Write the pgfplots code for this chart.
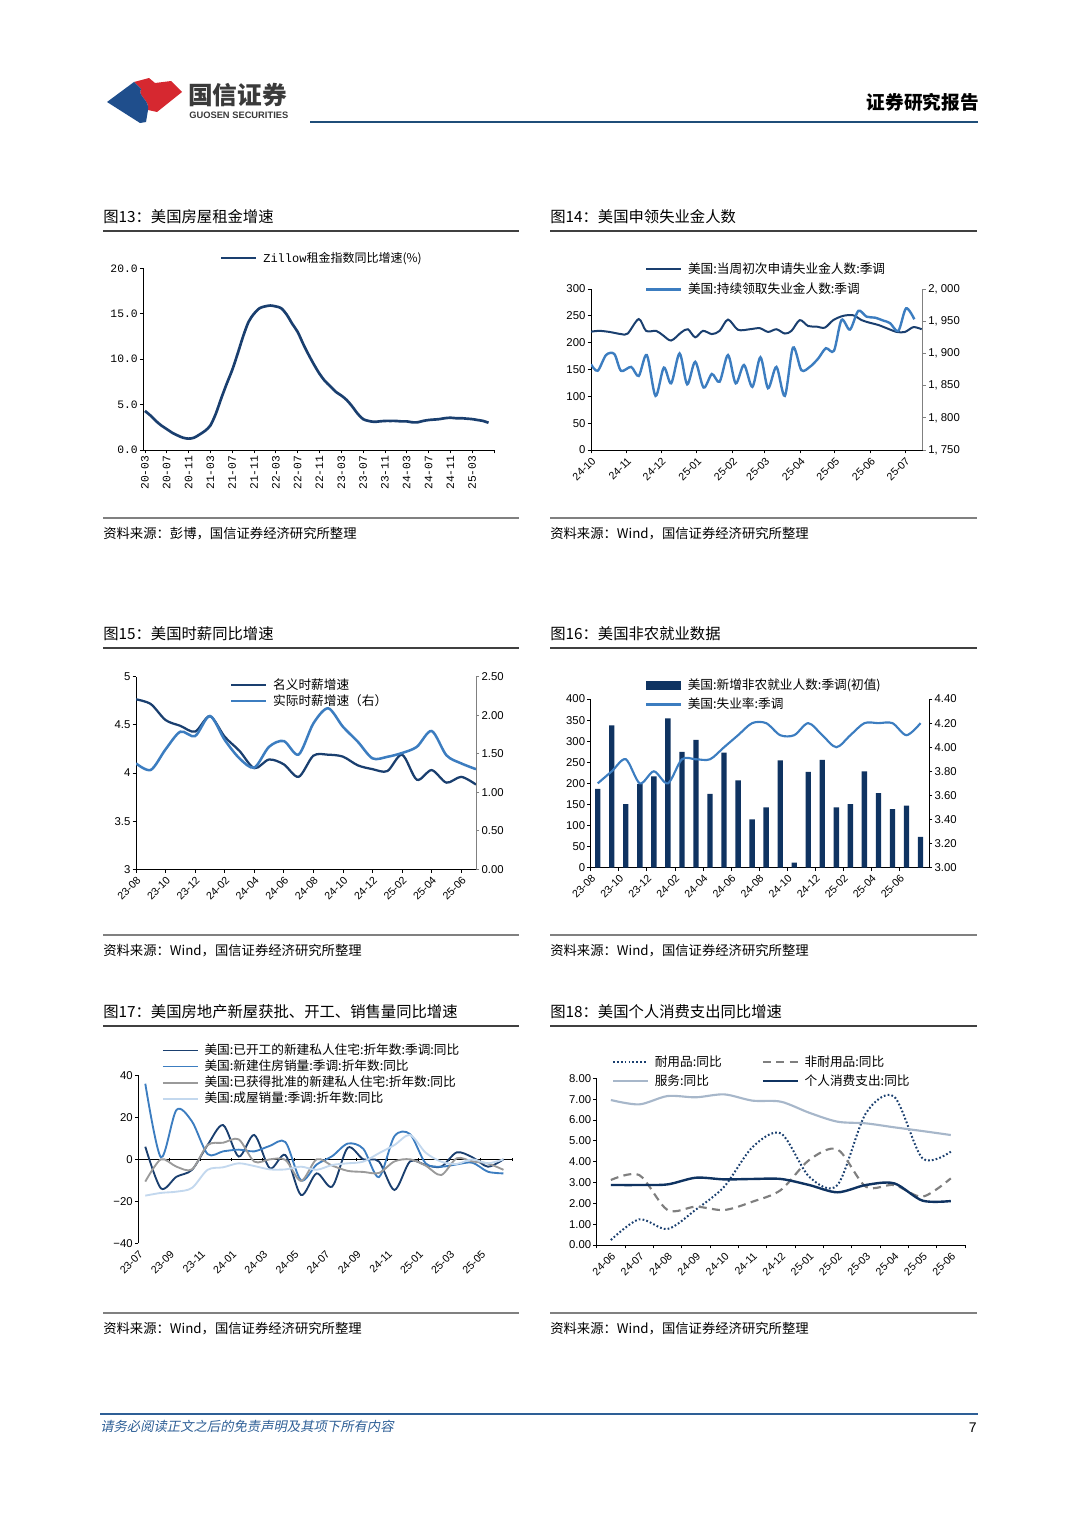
\documentclass[border=0pt]{standalone}
\usepackage{fontspec}
\usepackage{pgfplots}
\pgfplotsset{compat=1.18}
\setmainfont{Noto Sans CJK SC}
\newfontfamily\arial{Liberation Sans}
\newfontfamily\mono{Liberation Mono}
\newfontfamily\cjkit[FakeSlant=0.2]{Noto Sans CJK SC}

\definecolor{logored}{HTML}{D62830}
\definecolor{logoblue}{HTML}{1F4E8C}
\definecolor{hdrblue}{HTML}{1F4E79}
\definecolor{hdrgray}{HTML}{3A3A3A}
\definecolor{footblue}{HTML}{2E5F96}
\definecolor{navy}{HTML}{1A3F6F}
\definecolor{mblue}{HTML}{3C7DC0}
\definecolor{barc}{HTML}{0F3361}
\definecolor{lgray}{HTML}{9A9A9A}
\definecolor{lblue}{HTML}{C3D8EE}
\definecolor{srv}{HTML}{A7B7CA}
\definecolor{ndur}{HTML}{7F7F7F}
\definecolor{axgray}{HTML}{808080}

\pgfplotsset{
  base/.style={
    scale only axis, anchor=south west,
    axis line style={line width=0.6pt},
    tick style={line width=0.6pt, black},
    tick align=outside, major tick length=2.5pt,
    tick label style={font=\arial\fontsize{8.5}{9}\selectfont, inner sep=1.5pt},
    /pgf/number format/assume math mode=true,
    legend cell align=left,
    legend style={draw=none, fill=none, inner sep=0pt, outer sep=0pt,
      font=\fontsize{9.5}{10}\selectfont, nodes={inner sep=0pt},
      /tikz/every odd column/.append style={column sep=4.5pt}},
    legend image code/.code={\draw[##1] (0pt,0pt) -- (26pt,0pt);},
  },
  rot/.style={xticklabel style={rotate=45, anchor=north east, font=\arial\fontsize{8}{9}\selectfont}},
}

\begin{document}
\begin{tikzpicture}
\useasboundingbox (0,0) rectangle (810pt,-1145.25pt);

\begin{scope}[x=0.75pt,y=-0.75pt]
% header
\fill[logored] (134,82) -- (149,78) -- (155,83) -- (171,81) -- (182,92) -- (157,112) -- (148,110) .. controls (150,100) and (137,96) .. (141,89) -- cycle;
\fill[logoblue] (107,102) -- (134,82) -- (141,89) .. controls (137,96) and (150,100) .. (148,110) -- (146,122) -- (140,123) -- cycle;
\node[anchor=west, inner sep=0pt, text=hdrgray, font=\bfseries\fontsize{18.5}{19}\selectfont] at (188,95) {国信证券};
\node[anchor=west, inner sep=0pt, text=hdrgray, font=\arial\bfseries\fontsize{7}{8}\selectfont] at (189,115) {GUOSEN SECURITIES};
\node[anchor=east, inner sep=0pt, font=\bfseries\fontsize{14}{15}\selectfont] at (979,102) {证券研究报告};
\draw[line width=2.2pt, hdrblue] (310,122) -- (978,122);

% titles and sources
\begin{scope}[every node/.style={anchor=west, inner sep=0pt}]
\node[font=\fontsize{11.5}{12}\selectfont] at (103,217) {图13：美国房屋租金增速};
\node[font=\fontsize{11.5}{12}\selectfont] at (550,217) {图14：美国申领失业金人数};
\node[font=\fontsize{11.5}{12}\selectfont] at (103,634) {图15：美国时薪同比增速};
\node[font=\fontsize{11.5}{12}\selectfont] at (550,634) {图16：美国非农就业数据};
\node[font=\fontsize{11.5}{12}\selectfont] at (103,1012) {图17：美国房地产新屋获批、开工、销售量同比增速};
\node[font=\fontsize{11.5}{12}\selectfont] at (550,1012) {图18：美国个人消费支出同比增速};
\node[font=\fontsize{10}{11}\selectfont] at (103,534) {资料来源：彭博，国信证券经济研究所整理};
\node[font=\fontsize{10}{11}\selectfont] at (550,534) {资料来源：Wind，国信证券经济研究所整理};
\node[font=\fontsize{10}{11}\selectfont] at (103,951) {资料来源：Wind，国信证券经济研究所整理};
\node[font=\fontsize{10}{11}\selectfont] at (550,951) {资料来源：Wind，国信证券经济研究所整理};
\node[font=\fontsize{10}{11}\selectfont] at (103,1329) {资料来源：Wind，国信证券经济研究所整理};
\node[font=\fontsize{10}{11}\selectfont] at (550,1329) {资料来源：Wind，国信证券经济研究所整理};
\end{scope}
\foreach \yy in {231,648,1026} {
  \draw[line width=0.8pt, black!75] (103,\yy) -- (519,\yy);
  \draw[line width=0.8pt, black!75] (550,\yy) -- (977,\yy);
}
\foreach \yy in {518,935,1313} {
  \draw[line width=1pt, black!50] (103,\yy) -- (519,\yy);
  \draw[line width=1pt, black!50] (550,\yy) -- (977,\yy);
}
% footer
\draw[line width=0.8pt, footblue] (100,1414) -- (978,1414);
\node[anchor=west, inner sep=0pt, text=footblue, font=\cjkit\fontsize{10}{11}\selectfont] at (100,1426) {请务必阅读正文之后的免责声明及其项下所有内容};
\node[anchor=east, inner sep=0pt, font=\arial\fontsize{10.5}{11}\selectfont] at (977,1428) {7};
\end{scope}

% ================= Chart 13
\begin{axis}[base, at={({143.3*0.75pt},{-450*0.75pt})}, width=263pt, height=136.3pt,
  xmin=-0.3, xmax=64, ymin=0, ymax=20,
  axis x line*=bottom, axis y line*=left,
  xtick={0,4,...,64},
  xticklabels={20-03,20-07,20-11,21-03,21-07,21-11,22-03,22-07,22-11,23-03,23-07,23-11,24-03,24-07,24-11,25-03,},
  xticklabel style={rotate=90, anchor=east, font=\mono\fontsize{8.5}{9}\selectfont},
  ytick={0,5,10,15,20}, yticklabels={0.0,5.0,10.0,15.0,20.0},
  yticklabel style={font=\mono\fontsize{8.5}{9}\selectfont},
  legend style={at={(0.2187,1.0897)}, anchor=north west, font=\fontsize{9}{10}\selectfont}]
\addplot[navy, line width=2pt, smooth] coordinates {
(0,4.3)(1,3.8)(2,3.2)(3,2.7)(4,2.3)(5,1.9)(6,1.6)(7,1.35)(8,1.25)(9,1.35)(10,1.7)(11,2.1)(12,2.7)(13,4.0)(14,5.7)(15,7.3)(16,8.8)(17,10.6)(18,12.5)(19,14.1)(20,15.0)(21,15.6)(22,15.8)(23,15.9)(24,15.8)(25,15.6)(26,14.9)(27,13.9)(28,13.0)(29,11.7)(30,10.5)(31,9.4)(32,8.4)(33,7.6)(34,7.0)(35,6.4)(36,6.0)(37,5.5)(38,4.8)(39,4.0)(40,3.4)(41,3.2)(42,3.1)(43,3.15)(44,3.2)(45,3.2)(46,3.2)(47,3.15)(48,3.15)(49,3.05)(50,3.05)(51,3.2)(52,3.3)(53,3.35)(54,3.4)(55,3.5)(56,3.55)(57,3.5)(58,3.5)(59,3.45)(60,3.4)(61,3.3)(62,3.2)(63,3.0)};
\addlegendentry{{\mono Zillow}租金指数同比增速(\%)}
\end{axis}

% ================= Chart 14
\begin{axis}[base, rot, at={({591*0.75pt},{-450*0.75pt})}, width=248.8pt, height=120.75pt,
  xmin=0, xmax=288.4, ymin=0, ymax=300,
  axis x line*=bottom, axis y line*=left,
  xtick={0,31,61,92,123,151,182,212,243,273},
  xticklabels={24-10,24-11,24-12,25-01,25-02,25-03,25-04,25-05,25-06,25-07},
  ytick={0,50,...,300},
  legend style={at={(0.1628,1.1615)}, anchor=north west, row sep=5.5pt}]
\addplot[navy, line width=1.5pt, smooth] coordinates {
(0,220.5)(7.3,222)(16,220)(26.1,216)(31.9,217)(41.5,244)(47.9,222)(56.6,222)(62.4,214)(69.7,204)(78.4,219)(84.2,225)(90.6,210)(97.3,222)(105.1,216)(111.8,222)(119.1,243)(127.8,224)(138,225)(146.7,227)(154,220)(161.2,225)(168.5,217)(174.3,222)(181.5,242)(188.8,231)(196,230)(203.3,228)(210.6,242)(219.3,250)(228,251)(235.3,242)(242.5,237)(249.8,233)(257,227)(265.8,220)(273,220)(280.3,229)(287.5,225)};
\addlegendentry{美国:当周初次申请失业金人数:季调}
\addlegendimage{mblue, line width=1.8pt}
\addlegendentry{美国:持续领取失业金人数:季调}
\end{axis}
\begin{axis}[base, at={({591*0.75pt},{-450*0.75pt})}, width=248.8pt, height=120.75pt,
  xmin=0, xmax=288.4, ymin=1750, ymax=2000,
  axis x line=none, axis y line*=right,
  y axis line style={axgray}, ytick style={axgray},
  ytick={1750,1800,1850,1900,1950,2000},
  yticklabels={{1, 750},{1, 800},{1, 850},{1, 900},{1, 950},{2, 000}}]
\addplot[mblue, line width=1.8pt, smooth] coordinates {
(0,1883)(5.8,1873)(13.1,1897.5)(20.3,1899)(26.1,1873)(34.9,1879)(41.5,1865)(48.5,1897.5)(56.1,1834)(63.3,1878)(69.7,1853.5)(77,1900)(83.6,1852)(90.6,1887)(97.9,1847)(105.1,1868)(111.8,1856)(119.1,1897.5)(125.8,1853.5)(133,1882)(140.3,1848)(147.3,1894)(153.9,1846)(161.2,1879)(168.5,1834)(175.6,1909)(182.9,1874)(190.2,1879)(197.5,1892)(204.2,1908)(211.2,1904)(217.8,1952)(225.1,1937)(232.4,1966)(239.6,1957)(246.9,1955.5)(254.1,1951)(260,1947)(267.2,1935)(273.9,1970)(281.1,1953)};
\end{axis}

% ================= Chart 15
\begin{axis}[base, rot, at={({136*0.75pt},{-869.3*0.75pt})}, width=255pt, height=144.45pt,
  xmin=0, xmax=23, ymin=3, ymax=5,
  axis x line*=bottom, axis y line*=left,
  xtick={0,2,...,22},
  xticklabels={23-08,23-10,23-12,24-02,24-04,24-06,24-08,24-10,24-12,25-02,25-04,25-06},
  ytick={3,3.5,4,4.5,5}, yticklabels={3,3.5,4,4.5,5},
  legend style={at={(0.2765,0.99)}, anchor=north west, row sep=2.5pt}]
\addplot[navy, line width=1.7pt, smooth] coordinates {
(0,4.765)(1,4.716)(2,4.55)(3,4.49)(4,4.43)(5,4.59)(6,4.377)(7,4.23)(8,4.05)(9,4.14)(10,4.09)(11,3.96)(12,4.18)(13,4.19)(14,4.17)(15,4.08)(16,4.04)(17,4.02)(18,4.19)(19,3.93)(20,4.03)(21,3.90)(22,3.96)(23,3.88)};
\addlegendentry{名义时薪增速}
\addlegendimage{mblue, line width=1.9pt}
\addlegendentry{实际时薪增速（右）}
\end{axis}
\begin{axis}[base, at={({136*0.75pt},{-869.3*0.75pt})}, width=255pt, height=144.45pt,
  xmin=0, xmax=23, ymin=0, ymax=2.5,
  axis x line=none, axis y line*=right,
  y axis line style={axgray}, ytick style={axgray},
  ytick={0,0.5,1,1.5,2,2.5}, yticklabels={0.00,0.50,1.00,1.50,2.00,2.50}]
\addplot[mblue, line width=1.9pt, smooth] coordinates {
(0,1.375)(1,1.29)(2,1.557)(3,1.786)(4,1.73)(5,1.99)(6,1.68)(7,1.44)(8,1.32)(9,1.59)(10,1.665)(11,1.49)(12,1.894)(13,2.09)(14,1.85)(15,1.657)(16,1.44)(17,1.46)(18,1.51)(19,1.59)(20,1.795)(21,1.48)(22,1.375)(23,1.30)};
\end{axis}

% ================= Chart 16
\begin{axis}[base, rot, at={({590.7*0.75pt},{-867.7*0.75pt})}, width=253.7pt, height=126.5pt,
  xmin=-0.5, xmax=23.6, ymin=0, ymax=400,
  axis x line*=bottom, axis y line*=left,
  xtick={-0.5,1.5,3.5,5.5,7.5,9.5,11.5,13.5,15.5,17.5,19.5,21.5},
  xticklabels={23-08,23-10,23-12,24-02,24-04,24-06,24-08,24-10,24-12,25-02,25-04,25-06},
  ytick={0,50,...,400},
  legend style={at={(0.1605,1.1186)}, anchor=north west, row sep=4.75pt}]
\addlegendimage{legend image code/.code={\fill[barc] (0pt,-3.2pt) rectangle (26pt,3.2pt);}}
\addlegendentry{美国:新增非农就业人数:季调(初值)}
\addlegendimage{mblue, line width=1.6pt}
\addlegendentry{美国:失业率:季调}
\addplot[ybar, bar width=0.38, fill=barc, draw=none, forget plot] coordinates {
(0,187)(1,337.5)(2,151)(3,199)(4,216.6)(5,354)(6,275)(7,303)(8,175)(9,273)(10,207)(11,114.6)(12,143)(13,254.5)(14,12)(15,227)(16,256)(17,143)(18,151)(19,228.5)(20,177)(21,139)(22,147)(23,73)};
\end{axis}
\begin{axis}[base, at={({590.7*0.75pt},{-867.7*0.75pt})}, width=253.7pt, height=126.5pt,
  xmin=-0.5, xmax=23.6, ymin=3, ymax=4.4,
  axis x line=none, axis y line*=right,
  ytick={3,3.2,3.4,3.6,3.8,4,4.2,4.4}, yticklabels={3.00,3.20,3.40,3.60,3.80,4.00,4.20,4.40}]
\addplot[mblue, line width=1.6pt, smooth] coordinates {
(0,3.7)(1,3.8)(2,3.9)(3,3.7)(4,3.8)(5,3.7)(6,3.9)(7,3.9)(8,3.9)(9,4.0)(10,4.1)(11,4.2)(12,4.2)(13,4.1)(14,4.1)(15,4.2)(16,4.1)(17,4.0)(18,4.1)(19,4.2)(20,4.2)(21,4.2)(22,4.1)(23,4.2)};
\end{axis}

% ================= Chart 17
\begin{axis}[base, at={({138.3*0.75pt},{-1243.3*0.75pt})}, width=280.3pt, height=126pt,
  xmin=-0.45, xmax=23.55, ymin=-40, ymax=40,
  axis x line*=middle, axis y line=none, tick align=center,
  xtick={-0.45,1.55,3.55,5.55,7.55,9.55,11.55,13.55,15.55,17.55,19.55,21.55,23.55}, xticklabels={}]
\end{axis}
\begin{axis}[base, rot, at={({138.3*0.75pt},{-1243.3*0.75pt})}, width=280.3pt, height=126pt,
  xmin=-0.45, xmax=23.55, ymin=-40, ymax=40,
  axis x line*=bottom, axis y line=none, x axis line style={draw=none}, xtick style={draw=none},
  xtick={-0.45,1.55,3.55,5.55,7.55,9.55,11.55,13.55,15.55,17.55,19.55,21.55},
  xticklabels={23-07,23-09,23-11,24-01,24-03,24-05,24-07,24-09,24-11,25-01,25-03,25-05}]
\end{axis}
\begin{axis}[base, at={({138.3*0.75pt},{-1243.3*0.75pt})}, width=280.3pt, height=126pt,
  xmin=-0.45, xmax=23.55, ymin=-40, ymax=40,
  axis x line=none, axis y line*=left,
  ytick={-40,-20,0,20,40}, yticklabels={−40,−20,0,20,40},
  legend style={at={(0.0634,1.186)}, anchor=north west, row sep=2.5pt}]
\addplot[navy, line width=1.4pt, smooth] coordinates {
(0,6)(1,-13.8)(2,-8.3)(3,-5)(4,6.8)(5,16.3)(6,1.3)(7,11.6)(8,-4.3)(9,2)(10,-17)(11,-6.7)(12,-13)(13,5.5)(14,0)(15,-1)(16,-14.6)(17,-1)(18,-2.7)(19,-3.5)(20,3.3)(21,1)(22,-3.5)(23,0)};
\addlegendentry{美国:已开工的新建私人住宅:折年数:季调:同比}
\addplot[mblue, line width=1.4pt, smooth] coordinates {
(0,36)(1,1)(2,23.5)(3,18)(4,2.5)(5,3.8)(6,4.6)(7,3.8)(8,6.4)(9,8.2)(10,-10)(11,-2.5)(12,1.5)(13,7.5)(14,5)(15,-8.5)(16,11)(17,12)(18,-1.9)(19,-3.5)(20,-2.4)(21,-1.6)(22,-5.9)(23,-6.7)};
\addlegendentry{美国:新建住房销量:季调:折年数:同比}
\addplot[lgray, line width=1.4pt, smooth] coordinates {
(0,-10.6)(1,0)(2,-3.5)(3,-4.8)(4,6.8)(5,7.9)(6,9.5)(7,-1.1)(8,0)(9,-0.3)(10,-10.3)(11,0)(12,-3)(13,-5.5)(14,-6)(15,-6.5)(16,-1)(17,0)(18,-3)(19,-7.5)(20,0.5)(21,-1)(22,-2)(23,-5)};
\addlegendentry{美国:已获得批准的新建私人住宅:折年数:同比}
\addplot[lblue, line width=1.4pt, smooth] coordinates {
(0,-17.3)(1,-16)(2,-15.4)(3,-13.6)(4,-5)(5,-3.8)(6,-1.9)(7,-3.2)(8,-4.8)(9,-4.8)(10,-3.5)(11,-5)(12,-2.7)(13,-1.9)(14,-1.1)(15,2.9)(16,6.8)(17,11.6)(18,3.2)(19,-1.1)(20,-2.2)(21,0)(22,-1.9)(23,0)};
\addlegendentry{美国:成屋销量:季调:折年数:同比}
\end{axis}

% ================= Chart 18
\begin{axis}[base, rot, at={({596.7*0.75pt},{-1245*0.75pt})}, width=276.2pt, height=125pt,
  xmin=-0.5, xmax=12.5, ymin=0, ymax=8,
  axis x line*=bottom, axis y line=none, x axis line style={draw=none}, xtick style={draw=none},
  xtick={0,...,12},
  xticklabels={24-06,24-07,24-08,24-09,24-10,24-11,24-12,25-01,25-02,25-03,25-04,25-05,25-06}]
\end{axis}
\begin{axis}[base, at={({596.7*0.75pt},{-1245*0.75pt})}, width=276.2pt, height=125pt,
  xmin=-0.5, xmax=12.5, ymin=0, ymax=8,
  axis x line*=bottom, axis y line*=left,
  xtick={-0.5,0.5,...,12.5}, xticklabels={},
  ytick={0,1,...,8}, yticklabels={0.00,1.00,2.00,3.00,4.00,5.00,6.00,7.00,8.00},
  legend columns=2,
  legend style={at={(0.0416,1.134)}, anchor=north west, row sep=4.5pt,
    /tikz/every even column/.append style={column sep=30pt}}]
\addplot[navy, line width=1.5pt, smooth, dash pattern=on 1.3pt off 1.6pt] coordinates {
(0,0.24)(1,1.23)(2,0.77)(3,1.7)(4,2.8)(5,4.7)(6,5.36)(7,3.28)(8,2.88)(9,6.32)(10,7.12)(11,4.16)(12,4.48)};
\addlegendentry{耐用品:同比}
\addplot[ndur, line width=1.6pt, smooth, dash pattern=on 6pt off 4pt] coordinates {
(0,3.12)(1,3.36)(2,1.68)(3,1.84)(4,1.68)(5,2.08)(6,2.64)(7,4.08)(8,4.59)(9,2.8)(10,2.88)(11,2.32)(12,3.2)};
\addlegendentry{非耐用品:同比}
\addplot[srv, line width=1.6pt, smooth] coordinates {
(0,6.96)(1,6.75)(2,7.15)(3,7.09)(4,7.23)(5,6.93)(6,6.88)(7,6.35)(8,5.92)(9,5.84)(10,5.65)(11,5.47)(12,5.28)};
\addlegendentry{服务:同比}
\addplot[barc, line width=1.8pt, smooth] coordinates {
(0,2.88)(1,2.88)(2,2.91)(3,3.23)(4,3.15)(5,3.17)(6,3.17)(7,2.88)(8,2.53)(9,2.88)(10,2.96)(11,2.13)(12,2.11)};
\addlegendentry{个人消费支出:同比}
\end{axis}

\end{tikzpicture}
\end{document}
